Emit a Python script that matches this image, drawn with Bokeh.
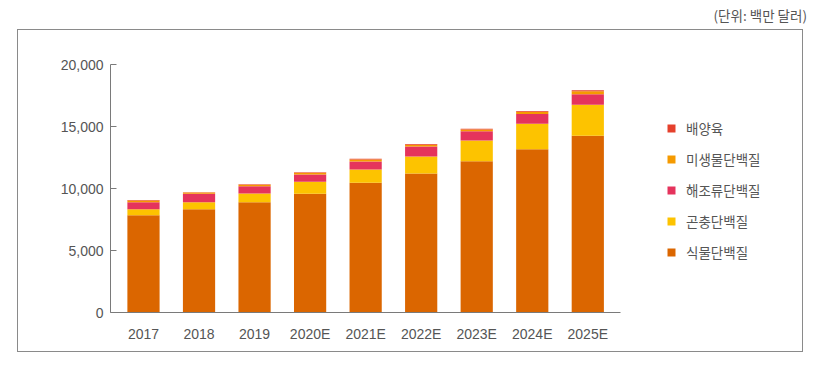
from bokeh.plotting import figure
from bokeh.models import (Range1d, FixedTicker, NumeralTickFormatter,
                          Legend, LegendItem, ColumnDataSource, Div, Spacer, InlineStyleSheet)
from bokeh.layouts import column, row
from bokeh.embed import file_html
from bokeh.resources import INLINE

years = ["2017", "2018", "2019", "2020E", "2021E", "2022E", "2023E", "2024E", "2025E"]
plant = [7850, 8330, 8900, 9570, 10460, 11210, 12200, 13170, 14250]
insect = [480, 570, 700, 970, 1070, 1370, 1670, 2050, 2500]
seaweed = [560, 670, 590, 590, 650, 810, 750, 780, 860]
microbe = [140, 100, 120, 140, 150, 140, 140, 180, 240]
cultured = [40, 30, 40, 50, 60, 50, 50, 60, 80]

series = ["식물단백질", "곤충단백질", "해조류단백질", "미생물단백질", "배양육"]
colors = ["#DB6600", "#FDC300", "#E5335C", "#F59A00", "#E5402C"]
yticks = [0, 5000, 10000, 15000, 20000]

xpos = list(range(len(years)))
src = ColumnDataSource(dict(x=xpos, plant=plant, insect=insect, seaweed=seaweed,
                            microbe=microbe, cultured=cultured))
keys = ["plant", "insect", "seaweed", "microbe", "cultured"]

NUM_FONT = "Liberation Sans"
KR_FONT = "Noto Sans CJK KR"

p = figure(width=797, height=326, x_range=Range1d(-0.594, 11.92),
           y_range=Range1d(0, 20000), output_backend="svg", toolbar_location=None,
           tools="")
p.min_border = 0
p.min_border_left = 102
p.min_border_right = 0
p.min_border_top = 35
p.min_border_bottom = 43
p.outline_line_color = None
p.xgrid.grid_line_color = None
p.ygrid.grid_line_color = None
p.stylesheets = [InlineStyleSheet(css=(
    ":host { position: relative; } "
    ":host::after { content: ''; position: absolute; left: 9px; top: 0px; "
    "width: 786px; height: 323px; border: 1px solid #8a8a8a; "
    "pointer-events: none; z-index: 10; }"))]

rs = p.vbar_stack(keys, x="x", width=0.58, color=colors, source=src, line_color=None)

ya = p.yaxis[0]
ya.ticker = FixedTicker(ticks=yticks)
ya.formatter = NumeralTickFormatter(format="0,0")
ya.major_tick_in = 6
ya.major_tick_out = 0
ya.minor_tick_line_color = None
ya.axis_line_color = "#7a7a7a"
ya.major_tick_line_color = "#7a7a7a"
ya.major_label_standoff = 7
ya.major_label_text_font = NUM_FONT
ya.major_label_text_font_size = "14px"
ya.major_label_text_color = "#555555"

xa = p.xaxis[0]
xa.ticker = FixedTicker(ticks=xpos)
xa.major_label_overrides = {i: y for i, y in zip(xpos, years)}
xa.bounds = (-0.594, 8.58)
xa.major_tick_line_color = None
xa.minor_tick_line_color = None
xa.axis_line_color = "#7a7a7a"
xa.major_label_standoff = 7
xa.major_label_text_font = NUM_FONT
xa.major_label_text_font_size = "14px"
xa.major_label_text_color = "#555555"

items = [LegendItem(label=series[i], renderers=[rs[i]]) for i in range(4, -1, -1)]
legend = Legend(items=items, location=(556, 50), orientation="vertical",
                glyph_width=10, glyph_height=10, label_height=20, spacing=11,
                label_standoff=10, padding=0, margin=0,
                border_line_color=None, background_fill_alpha=0,
                label_text_font=KR_FONT, label_text_font_size="13.5px",
                label_text_color="#555555")
p.add_layout(legend, "center")

title = Div(text="(단위: 백만 달러)", width=802, height=19,
            styles={"text-align": "right", "font-family": KR_FONT, "font-size": "13.5px",
                    "color": "#555555", "line-height": "16px", "width": "802px",
                    "padding-top": "2px"})

layout = column(title, row(Spacer(width=8, height=326), p))
open("out.html", "w").write(file_html(layout, INLINE))
